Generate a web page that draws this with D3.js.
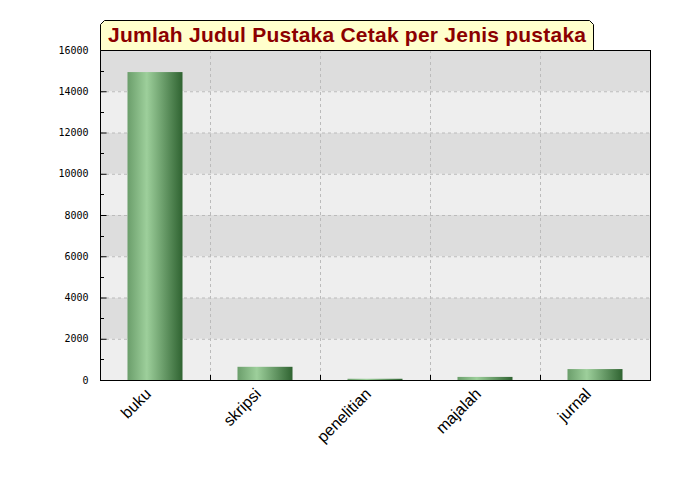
<!DOCTYPE html>
<html>
<head>
<meta charset="utf-8">
<script src="https://cdn.jsdelivr.net/npm/d3@7"></script>
<style>
  body { margin: 0; background: #fff; }
  svg { display: block; }
</style>
</head>
<body>
<div id="chart"></div>
<script>
var categories = ["buku", "skripsi", "penelitian", "majalah", "jurnal"];
var values = [14930, 640, 60, 150, 530];
var yTicks = [0, 2000, 4000, 6000, 8000, 10000, 12000, 14000, 16000];
var titleText = "Jumlah Judul Pustaka Cetak per Jenis pustaka";

var width = 700, height = 500;
var margin = {top: 50, right: 50, bottom: 120, left: 100};
var plotW = width - margin.left - margin.right,
    plotH = height - margin.top - margin.bottom;

var svg = d3.select("#chart").append("svg")
    .attr("width", width)
    .attr("height", height);

var defs = svg.append("defs");
var grad = defs.append("linearGradient")
    .attr("id", "barGrad")
    .attr("x1", "0%").attr("x2", "100%")
    .attr("y1", "0%").attr("y2", "0%");
grad.append("stop").attr("offset", "0%").attr("stop-color", "#6b9e6b");
grad.append("stop").attr("offset", "35%").attr("stop-color", "#9dcf9b");
grad.append("stop").attr("offset", "100%").attr("stop-color", "#2f6331");

var x = d3.scaleBand().domain(categories).range([0, plotW]).paddingInner(0).paddingOuter(0);
var y = d3.scaleLinear().domain([0, 16000]).range([plotH, 0]);

var g = svg.append("g").attr("transform", "translate(" + margin.left + "," + margin.top + ")");

// alternating bands
var bandData = d3.range(yTicks.length - 1).map(function(i) { return [yTicks[i], yTicks[i + 1], i]; });
g.append("g").selectAll("rect")
    .data(bandData)
    .enter().append("rect")
    .attr("x", 0)
    .attr("width", plotW)
    .attr("y", function(d) { return y(d[1]); })
    .attr("height", function(d) { return y(d[0]) - y(d[1]); })
    .attr("fill", function(d) { return d[2] % 2 == 0 ? "#eeeeee" : "#dddddd"; });

// horizontal grid
g.append("g").selectAll("line")
    .data(yTicks.slice(1, -1))
    .enter().append("line")
    .attr("x1", 0).attr("x2", plotW)
    .attr("y1", function(d) { return y(d) + 0.5; })
    .attr("y2", function(d) { return y(d) + 0.5; })
    .attr("stroke", "#bbbbbb")
    .attr("stroke-dasharray", "3,3");

// vertical grid at category boundaries
var bounds = categories.slice(1).map(function(c) { return x(c); });
g.append("g").selectAll("line")
    .data(bounds)
    .enter().append("line")
    .attr("x1", function(d) { return Math.round(d) + 0.5; })
    .attr("x2", function(d) { return Math.round(d) + 0.5; })
    .attr("y1", 0).attr("y2", plotH)
    .attr("stroke", "#bbbbbb")
    .attr("stroke-dasharray", "3,3");

// bars
var bw = x.bandwidth() * 0.5;
g.append("g").selectAll("rect")
    .data(values)
    .enter().append("rect")
    .attr("x", function(d, i) { return x(categories[i]) + (x.bandwidth() - bw) / 2; })
    .attr("width", bw)
    .attr("y", function(d) { return y(d); })
    .attr("height", function(d) { return plotH - y(d); })
    .attr("fill", "url(#barGrad)");

// y axis (ticks inside)
var yAxis = d3.axisLeft(y).tickValues(yTicks).tickSize(-6).tickPadding(12).tickFormat(d3.format("d"));
var ya = g.append("g").attr("transform", "translate(0.5,0)").call(yAxis);
ya.select(".domain").remove();
ya.selectAll("text").attr("font-family", "DejaVu Sans Mono").attr("font-size", 10).attr("fill", "#000");
ya.selectAll("line").attr("stroke", "#000");

// minor ticks
g.append("g").selectAll("line")
    .data(d3.range(1000, 16000, 2000))
    .enter().append("line")
    .attr("x1", 0).attr("x2", 4)
    .attr("y1", function(d) { return Math.round(y(d)) + 0.5; })
    .attr("y2", function(d) { return Math.round(y(d)) + 0.5; })
    .attr("stroke", "#000");

// x ticks at boundaries
g.append("g").selectAll("line")
    .data(bounds)
    .enter().append("line")
    .attr("x1", function(d) { return Math.round(d) + 0.5; })
    .attr("x2", function(d) { return Math.round(d) + 0.5; })
    .attr("y1", plotH).attr("y2", plotH - 5)
    .attr("stroke", "#000");

// plot frame
g.append("rect")
    .attr("x", 0.5).attr("y", 0.5)
    .attr("width", plotW).attr("height", plotH)
    .attr("fill", "none")
    .attr("stroke", "#000");

// x labels
g.append("g").selectAll("text")
    .data(categories)
    .enter().append("text")
    .attr("transform", function(d) {
        return "translate(" + (x(d) + x.bandwidth() / 2 - 3) + "," + (plotH + 15) + ") rotate(-45)";
    })
    .attr("text-anchor", "end")
    .attr("font-family", "Liberation Sans, Arial, sans-serif")
    .attr("font-size", 16)
    .attr("fill", "#000")
    .text(function(d) { return d; });

// title box
var tg = svg.append("g");
var title = tg.append("text")
    .attr("x", 108)
    .attr("y", 42)
    .attr("font-family", "Liberation Sans, Arial, sans-serif")
    .attr("font-weight", "bold")
    .attr("font-size", 21)
    .attr("textLength", 478)
    .attr("lengthAdjust", "spacing")
    .attr("fill", "#8b0000")
    .text(titleText);
var bx0 = 100.5, bx1 = 593.5, by0 = 20.5, by1 = 50.5, c = 4;
tg.insert("path", "text")
    .attr("d", "M" + bx0 + "," + by1 + "L" + bx0 + "," + (by0 + c) + "L" + (bx0 + c) + "," + by0 +
        "L" + (bx1 - c) + "," + by0 + "L" + bx1 + "," + (by0 + c) + "L" + bx1 + "," + by1 + "Z")
    .attr("fill", "#ffffcc")
    .attr("stroke", "#000");
</script>
</body>
</html>
